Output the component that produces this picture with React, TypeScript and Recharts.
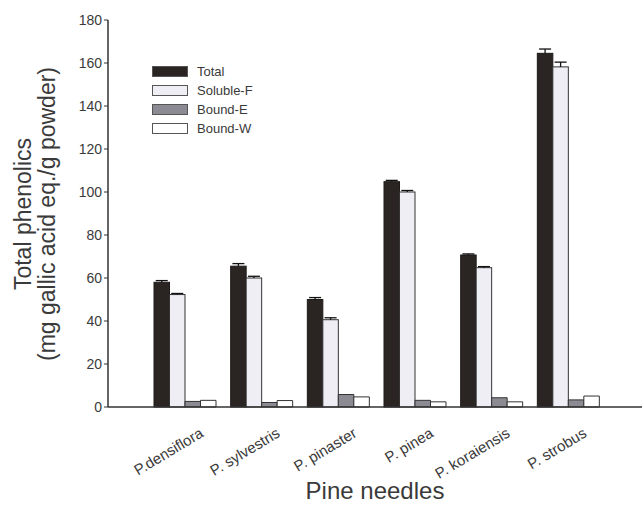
import React from 'react';
import { BarChart, Bar, XAxis, YAxis, Legend } from 'recharts';

const categories = ['P.densiflora', 'P. sylvestris', 'P. pinaster', 'P. pinea', 'P. koraiensis', 'P. strobus'];
const totalValues = [58, 65.5, 50, 104.8, 70.7, 164.5];
const solubleValues = [52.3, 60, 40.6, 100, 64.8, 158.2];
const boundEValues = [2.6, 2.1, 5.8, 3.1, 4.3, 3.3];
const boundWValues = [3.1, 3, 4.7, 2.4, 2.4, 5.1];
const totalErrors = [0.8, 1.2, 0.9, 0.6, 0.5, 2];
const solubleErrors = [0.5, 0.8, 0.9, 0.7, 0.5, 2.2];
const yTicks = [0, 20, 40, 60, 80, 100, 120, 140, 160, 180];

const seriesNames = ['Total', 'Soluble-F', 'Bound-E', 'Bound-W'];
const seriesFills = ['#2a2523', '#eeeef4', '#8c8b94', '#ffffff'];

const data = categories.map((c, i) => ({
  name: c,
  total: totalValues[i],
  soluble: solubleValues[i],
  boundE: boundEValues[i],
  boundW: boundWValues[i],
  totalErr: totalErrors[i],
  solubleErr: solubleErrors[i],
}));

const FONT = '"Liberation Sans", Arial, Helvetica, sans-serif';
const TEXT = '#3a3a3a';
const AXIS = '#333333';

const makeErrShape = (valueKey: string, errKey: string, stroke: string) => (props: any) => {
  const { x, y, width, height, fill, payload } = props;
  const v = payload[valueKey];
  const e = payload[errKey];
  const pxPerUnit = v ? height / v : 0;
  const yTop = y - e * pxPerUnit;
  const cx = x + width / 2;
  return (
    <g>
      <rect x={x} y={y} width={width} height={height} fill={fill} stroke={stroke} strokeWidth={1} />
      <line x1={cx} y1={y} x2={cx} y2={yTop} stroke="#111" strokeWidth={1.3} />
      <line x1={cx - 6} y1={yTop} x2={cx + 6} y2={yTop} stroke="#111" strokeWidth={1.3} />
    </g>
  );
};

const TotalShape = makeErrShape('total', 'totalErr', '#1e1a19');
const SolubleShape = makeErrShape('soluble', 'solubleErr', '#333');

const XTick = (props: any) => {
  const { x, y, payload } = props;
  return (
    <g transform={`translate(${x + 19},${y + 21})`}>
      <text
        x={0}
        y={0}
        textAnchor="end"
        transform="rotate(-31)"
        fontSize={15}
        fontFamily={FONT}
        fill={TEXT}
      >
        {payload.value}
      </text>
    </g>
  );
};

const YLabel = () => {
  const cy = 214;
  return (
    <g>
      <text
        transform={`translate(31,${cy}) rotate(-90)`}
        textAnchor="middle"
        fontSize={23}
        fontFamily={FONT}
        fill={TEXT}
      >
        Total phenolics
      </text>
      <text
        transform={`translate(55,${cy}) rotate(-90)`}
        textAnchor="middle"
        fontSize={23}
        fontFamily={FONT}
        fill={TEXT}
      >
        (mg gallic acid eq./g powder)
      </text>
    </g>
  );
};

const XLabel = (props: any) => {
  const vb = props.viewBox || {};
  const cx = (vb.x ?? 108) + (vb.width ?? 534) / 2;
  return (
    <text x={cx} y={499} textAnchor="middle" fontSize={24} fontFamily={FONT} fill={TEXT}>
      Pine needles
    </text>
  );
};

const LegendContent = () => (
  <div style={{ fontFamily: FONT, fontSize: 13, color: TEXT }}>
    {seriesNames.map((n, i) => (
      <div key={n} style={{ display: 'flex', alignItems: 'center', height: 19 }}>
        <div
          style={{
            width: 34,
            height: 9,
            background: seriesFills[i],
            border: '1px solid #555',
            marginRight: 9,
          }}
        />
        <span>{n}</span>
      </div>
    ))}
  </div>
);

export default function App() {
  return (
    <div style={{ position: 'absolute', left: 0, top: 0, width: 644, height: 509, background: '#fff' }}>
      <BarChart
        width={644}
        height={509}
        data={data}
        margin={{ top: 20, right: 2, left: 0, bottom: 0 }}
        barSize={15.5}
        barGap={0}
      >
        <XAxis
          dataKey="name"
          height={102}
          padding={{ left: 39, right: 35 }}
          tickLine={false}
          axisLine={{ stroke: AXIS, strokeWidth: 1.5 }}
          tick={<XTick />}
          interval={0}
          label={<XLabel />}
        />
        <XAxis
          xAxisId="top"
          orientation="top"
          dataKey="name"
          height={0}
          tick={false}
          tickLine={false}
          axisLine={{ stroke: AXIS, strokeWidth: 1.5 }}
        />
        <YAxis
          width={108}
          domain={[0, 180]}
          ticks={yTicks}
          interval={0}
          tickSize={4}
          tickLine={{ stroke: AXIS }}
          axisLine={{ stroke: AXIS, strokeWidth: 1.5 }}
          tick={{ fontSize: 14, fontFamily: FONT, fill: TEXT }}
          label={<YLabel />}
        />
        <YAxis
          yAxisId="right"
          orientation="right"
          width={0}
          domain={[0, 180]}
          tick={false}
          tickLine={false}
          axisLine={{ stroke: AXIS, strokeWidth: 1.5 }}
        />
        <Legend
          layout="vertical"
          align="center"
          verticalAlign="middle"
          content={<LegendContent />}
          wrapperStyle={{ left: 152, top: 62, width: 120, height: 80 }}
        />
        <Bar dataKey="total" name="Total" fill={seriesFills[0]} shape={TotalShape} isAnimationActive={false} />
        <Bar dataKey="soluble" name="Soluble-F" fill={seriesFills[1]} shape={SolubleShape} isAnimationActive={false} />
        <Bar dataKey="boundE" name="Bound-E" fill={seriesFills[2]} stroke="#333" strokeWidth={1} isAnimationActive={false} />
        <Bar dataKey="boundW" name="Bound-W" fill={seriesFills[3]} stroke="#333" strokeWidth={1} isAnimationActive={false} />
      </BarChart>
    </div>
  );
}
